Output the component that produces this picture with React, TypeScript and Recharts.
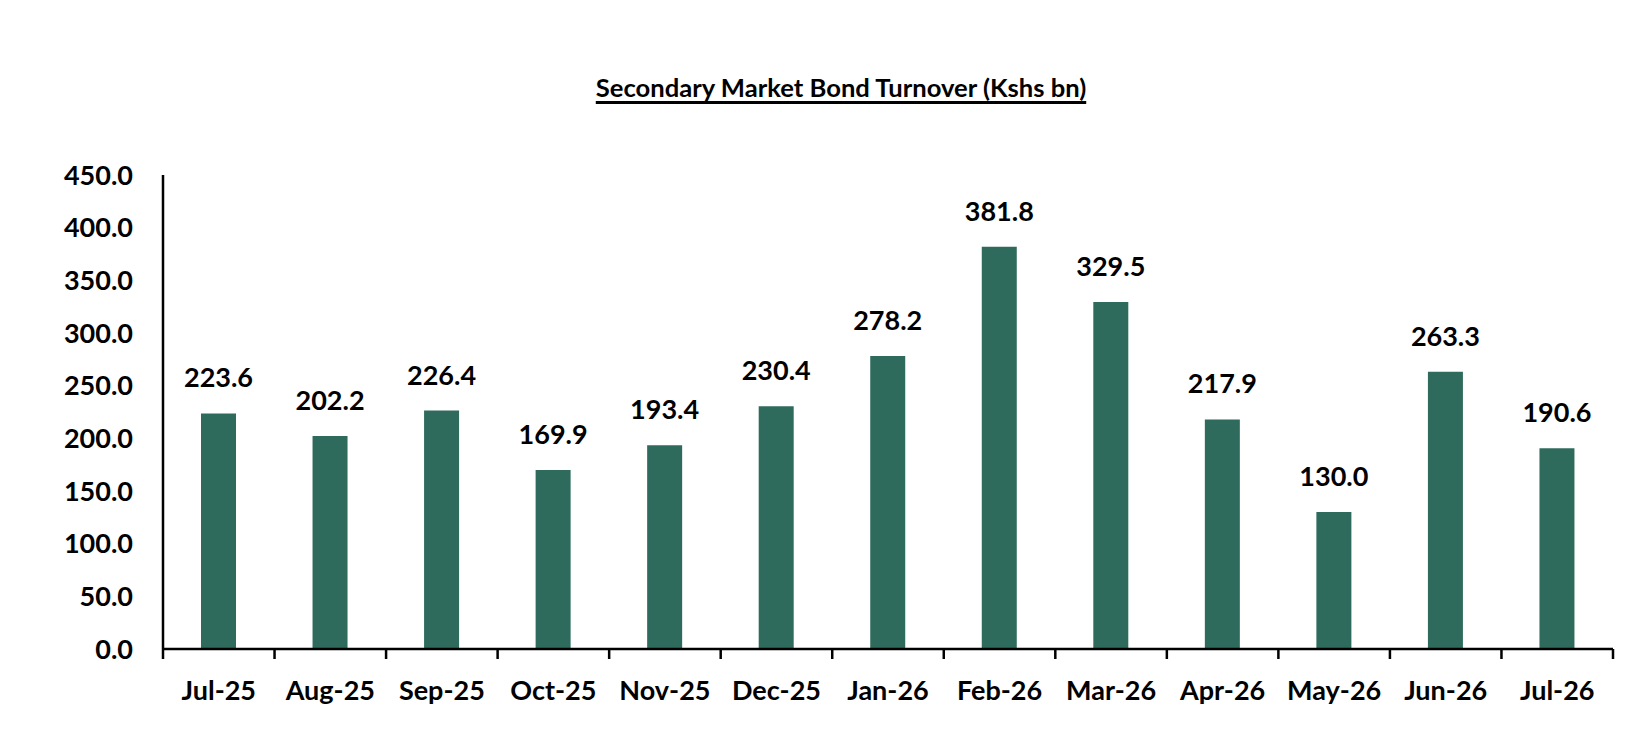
import { BarChart, Bar, XAxis, YAxis, LabelList } from "recharts";

const months = [
  "Jul-25", "Aug-25", "Sep-25", "Oct-25", "Nov-25", "Dec-25", "Jan-26",
  "Feb-26", "Mar-26", "Apr-26", "May-26", "Jun-26", "Jul-26",
];
const turnover = [
  223.6, 202.2, 226.4, 169.9, 193.4, 230.4, 278.2, 381.8, 329.5, 217.9, 130.0, 263.3, 190.6,
];
const yTicks = [0, 50, 100, 150, 200, 250, 300, 350, 400, 450];

const FONT = "Lato, 'Open Sans', sans-serif";
const BAR_COLOR = "#2E6B5C";

const data = months.map((month, i) => ({ month, value: turnover[i] }));

// category label at band centre, tick marks on the band edges
function MonthTick(props: any) {
  const { x, y, payload, index, visibleTicksCount } = props;
  const half = payload?.offset ?? 0;
  const last = index === visibleTicksCount - 1;
  return (
    <g>
      <line x1={x - half} x2={x - half} y1={y} y2={y + 10} stroke="#000" strokeWidth={2.5} />
      {last && <line x1={x + half} x2={x + half} y1={y} y2={y + 10} stroke="#000" strokeWidth={2.5} />}
      <text x={x} y={y + 51} textAnchor="middle" fontFamily={FONT} fontWeight={700} fontSize={27} fill="#000">
        {payload.value}
      </text>
    </g>
  );
}

export default function App() {
  return (
    <div style={{ position: "absolute", top: 0, left: 0, width: 1642, height: 752, background: "#fff" }}>
      <div
        style={{
          position: "absolute",
          left: 841,
          top: 70,
          transform: "translateX(-50%)",
          whiteSpace: "nowrap",
          fontFamily: FONT,
          fontWeight: 700,
          fontSize: 25.6,
          lineHeight: "34px",
          textDecoration: "underline",
          textDecorationThickness: 2.5,
          textUnderlineOffset: 4,
          color: "#000",
        }}
      >
        Secondary Market Bond Turnover (Kshs bn)
      </div>
      <BarChart width={1642} height={752} data={data} margin={{ top: 175, right: 29, left: 0, bottom: 0 }}>
        <XAxis
          dataKey="month"
          height={103}
          tickSize={0}
          tickMargin={0}
          tickLine={false}
          interval={0}
          axisLine={{ stroke: "#000", strokeWidth: 2.5 }}
          tick={<MonthTick />}
        />
        <YAxis
          width={163}
          domain={[0, 450]}
          ticks={yTicks}
          tickSize={0}
          tickMargin={30}
          tickLine={false}
          axisLine={{ stroke: "#000", strokeWidth: 2.5 }}
          tick={{ fontFamily: FONT, fontWeight: 700, fontSize: 27, fill: "#000" }}
          tickFormatter={(v: number) => v.toFixed(1)}
        />
        <Bar dataKey="value" fill={BAR_COLOR} barSize={35} isAnimationActive={false}>
          <LabelList
            dataKey="value"
            position="top"
            offset={26}
            formatter={(v: any) => Number(v).toFixed(1)}
            style={{ fontFamily: FONT, fontWeight: 700, fontSize: 27, fill: "#000" }}
          />
        </Bar>
      </BarChart>
    </div>
  );
}
